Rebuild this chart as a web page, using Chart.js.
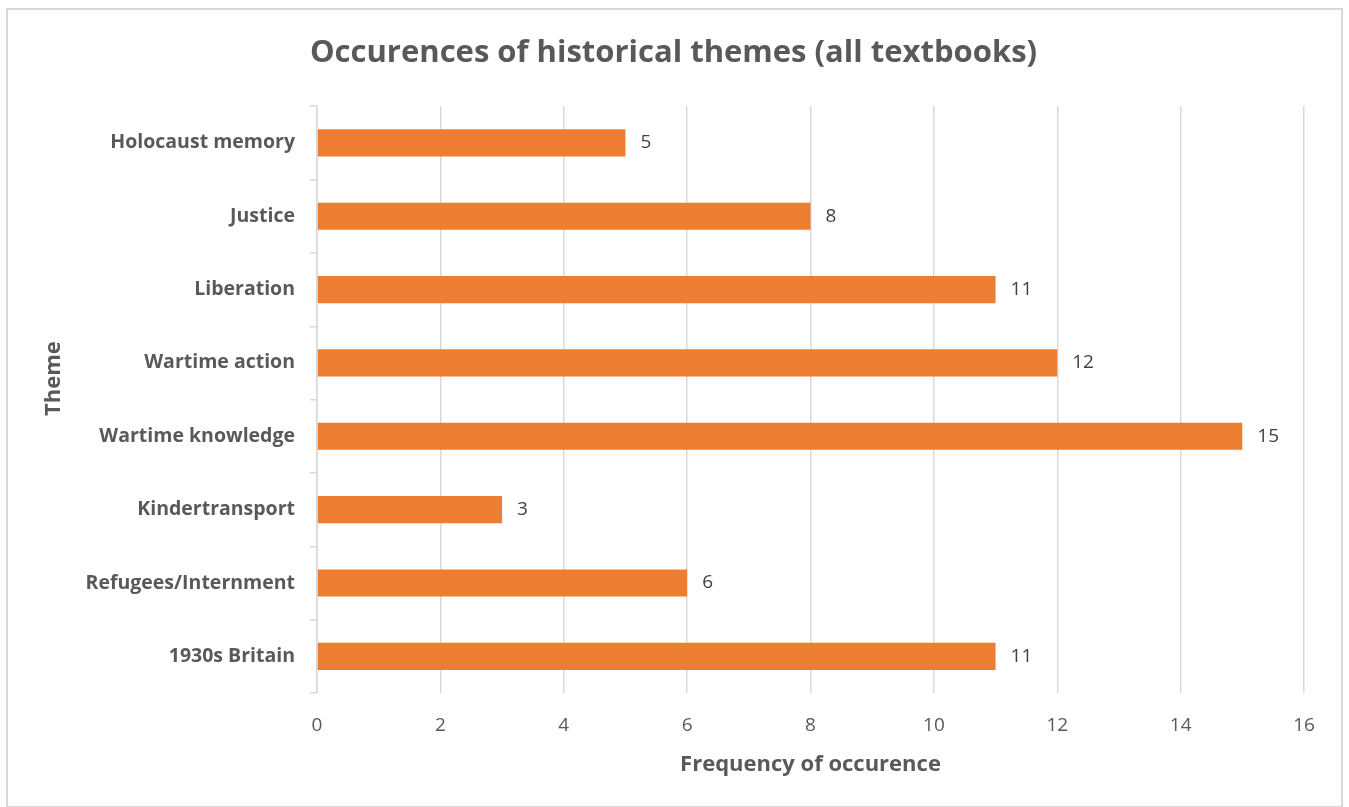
<!DOCTYPE html>
<html>
<head>
<meta charset="utf-8">
<script src="https://cdn.jsdelivr.net/npm/chart.js@4"></script>
<style>
  body { margin: 0; background: #fff; }
  #wrap { position: relative; width: 1349px; height: 807px; }
  #frame { position: absolute; left: 6px; top: 8px; width: 1337px; height: 800px; border: 2px solid #d9d9d9; box-sizing: border-box; }
  canvas { position: absolute; left: 0; top: 0; }
</style>
</head>
<body>
<div id="wrap">
  <div id="frame"></div>
  <canvas id="grafico-temas" width="1349" height="807"></canvas>
</div>
<script>
var temas = ['Holocaust memory', 'Justice', 'Liberation', 'Wartime action', 'Wartime knowledge', 'Kindertransport', 'Refugees/Internment', '1930s Britain'];
var ocorrencias = [5, 8, 11, 12, 15, 3, 6, 11];
var eixoX = [0, 2, 4, 6, 8, 10, 12, 14, 16];

var fonte = '"Open Sans", Lato, sans-serif';

// rotulos com o valor ao lado de cada barra
var rotulosValor = {
    id: 'rotulosValor',
    afterDatasetsDraw: function(chart) {
        var ctx = chart.ctx;
        var meta = chart.getDatasetMeta(0);
        ctx.save();
        ctx.font = '19px ' + fonte;
        ctx.fillStyle = '#404040';
        ctx.textAlign = 'left';
        ctx.textBaseline = 'middle';
        meta.data.forEach(function(barra, i) {
            ctx.fillText(chart.data.datasets[0].data[i], barra.x + 15, barra.y);
        });
        ctx.restore();
    }
};

// titulo do eixo vertical, um pouco acima do centro
var tituloEixoY = {
    id: 'tituloEixoY',
    afterDraw: function(chart) {
        var ctx = chart.ctx;
        var area = chart.chartArea;
        ctx.save();
        ctx.translate(54, (area.top + area.bottom) / 2 - 21);
        ctx.rotate(-Math.PI / 2);
        ctx.font = 'bold 22px ' + fonte;
        ctx.fillStyle = '#595959';
        ctx.textAlign = 'center';
        ctx.textBaseline = 'middle';
        ctx.fillText('Theme', 0, 0);
        ctx.restore();
    }
};

var ctx = document.getElementById('grafico-temas').getContext('2d');
var grafico = new Chart(ctx, {
    type: 'bar',
    data: {
        labels: temas,
        datasets: [{
            data: ocorrencias,
            backgroundColor: '#ED7D31',
            borderWidth: 0,
            categoryPercentage: 1,
            barPercentage: 0.37
        }]
    },
    plugins: [rotulosValor, tituloEixoY],
    options: {
        indexAxis: 'y',
        responsive: false,
        animation: false,
        layout: { padding: { left: 43, right: 45, top: 0, bottom: 29 } },
        plugins: {
            legend: { display: false },
            tooltip: { enabled: false },
            title: {
                display: true,
                text: 'Occurences of historical themes (all textbooks)',
                color: '#595959',
                font: { family: fonte, size: 31, weight: 'bold', lineHeight: 1.2 },
                padding: { top: 35, bottom: 34 }
            }
        },
        scales: {
            x: {
                min: 0,
                max: 16,
                afterBuildTicks: function(scale) {
                    scale.ticks = eixoX.map(function(v) { return { value: v }; });
                },
                afterFit: function(scale) { scale.height = 85; },
                grid: { color: '#d9d9d9', lineWidth: 1.5, drawTicks: false },
                border: { display: false },
                ticks: { color: '#595959', font: { family: fonte, size: 19 }, padding: 21 },
                title: {
                    display: true,
                    text: 'Frequency of occurence',
                    color: '#595959',
                    font: { family: fonte, size: 22, weight: 'bold', lineHeight: 1.2 },
                    padding: 0
                }
            },
            y: {
                afterFit: function(scale) { scale.width = 274; },
                grid: { color: '#d9d9d9', lineWidth: 1.5, drawOnChartArea: false, drawTicks: true, tickLength: 7, offset: true },
                border: { display: true, color: '#d9d9d9', width: 1.5 },
                ticks: { color: '#595959', font: { family: fonte, size: 19.5, weight: 'bold' }, padding: 15 }
            }
        }
    }
});
</script>
</body>
</html>
